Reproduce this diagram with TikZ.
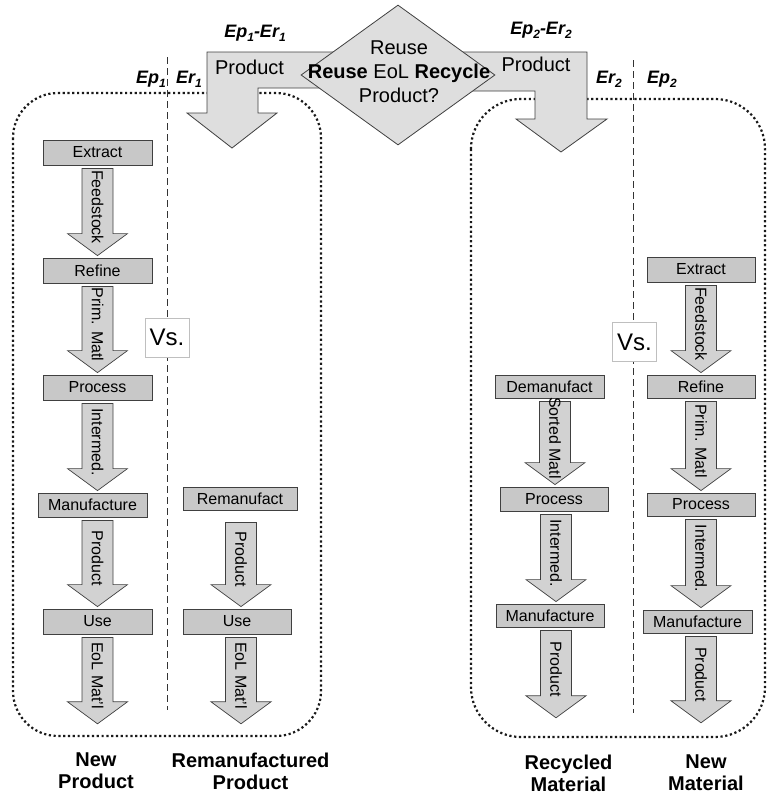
\documentclass[tikz,border=0pt]{standalone}
\usepackage{fontspec}
\setmainfont{Liberation Sans}
\usetikzlibrary{shapes.geometric,calc}
\definecolor{boxfill}{HTML}{C8C8C8}
\definecolor{arrfill}{HTML}{D2D2D2}
\definecolor{bigfill}{HTML}{DEDEDE}
\definecolor{edgegray}{HTML}{404040}
\newcommand\subx[1]{\raisebox{-0.45ex}{\fontsize{12}{12}\selectfont #1}}
% #1 top gap, #2 column x, #3 from node, #4 to node, #5 label
\newcommand\barrow[5][3]{%
  \draw[smallarrow] let \p1=(#3.south), \p2=(#4.north) in
    (#2pt-15.5pt,\y1-#1pt) -- (#2pt+15.5pt,\y1-#1pt) -- (#2pt+15.5pt,\y2+24pt)
    -- (#2pt+30pt,\y2+24pt) -- (#2pt,\y2+2pt) -- (#2pt-30pt,\y2+24pt)
    -- (#2pt-15.5pt,\y2+24pt) -- cycle
    (#2pt,{0.5*(\y1-#1pt+\y2+2pt)+5pt}) node[arrowlabel] {#5};}
\tikzset{
  pbox/.style={draw=edgegray, fill=boxfill, line width=0.8pt, inner sep=0pt,
    minimum height=24pt, font=\fontsize{16}{19}\selectfont},
  arrowlabel/.style={rotate=-90, inner sep=0pt, font=\fontsize{16}{19}\selectfont},
  smallarrow/.style={draw=edgegray, fill=arrfill, line width=0.7pt},
  bigarrow/.style={draw=edgegray, fill=bigfill, line width=0.8pt},
  panel/.style={draw=black!90, line width=2.2pt, dash pattern=on 2.2pt off 2.6pt},
  divider/.style={draw=black!80, line width=0.9pt, dash pattern=on 7pt off 4pt},
  vsbox/.style={draw=black!25, fill=white, line width=0.6pt, minimum width=44pt,
    minimum height=39pt, inner sep=0pt, font=\fontsize{24}{28}\selectfont},
  botlabel/.style={align=center, inner sep=0pt, font=\bfseries\fontsize{20}{22}\selectfont},
  eplabel/.style={inner sep=0pt, font=\bfseries\itshape\fontsize{18}{20}\selectfont},
  biglabel/.style={inner sep=0pt, font=\fontsize{20}{24}\selectfont},
  endpt/.style={inner sep=0pt, minimum size=0pt}
}
\begin{document}
\begin{tikzpicture}[x=1pt,y=-1pt]
\useasboundingbox (0,0) rectangle (768,795);
% panels
\draw[panel, rounded corners=45pt] (13,93) rectangle (321,736);
\draw[panel, rounded corners=50pt] (471,99) rectangle (765,737);
% dividers
\coordinate (d1t) at (167,57); \coordinate (d1b) at (167,710);
\coordinate (d2t) at (633,60); \coordinate (d2b) at (633,713);
\draw[divider] (d1t) -- (d1b);
\draw[divider] (d2t) -- (d2b);
% big bent arrows
\draw[bigarrow] (400,52) -- (207,52) -- (207,113) -- (187,113) -- (232,148)
  -- (277,113) -- (258,113) -- (258,88) -- (400,88) -- cycle;
\draw[bigarrow] (400,52) -- (587,52) -- (587,119) -- (607,119) -- (561,152)
  -- (516,119) -- (535,119) -- (535,91) -- (400,91) -- cycle;
% decision diamond
\node[diamond, draw=edgegray, fill=bigfill, line width=0.8pt, inner sep=0pt,
  minimum width=194pt, minimum height=140pt] (dec) at (398,75) {};
\node[biglabel, align=center] (dectext) at (399,72)
  {Reuse\\\textbf{Reuse} EoL \textbf{Recycle}\\Product?};
\node[biglabel] (prodL) at (249.5,67) {Product};
\node[biglabel] (prodR) at (536,64) {Product};
% top labels
\node[eplabel] (epr1) at (255,33) {Ep\subx{1}-Er\subx{1}};
\node[eplabel] (epr2) at (541,30) {Ep\subx{2}-Er\subx{2}};
\node[eplabel] (ep1) at (151,79) {Ep\subx{1}};
\node[eplabel] (er1) at (189,79) {Er\subx{1}};
\node[eplabel] (er2) at (609,79) {Er\subx{2}};
\node[eplabel] (ep2) at (662,79) {Ep\subx{2}};
% column A: new product
\node[pbox, minimum width=109pt, minimum height=25pt] (ExtA) at (97.5,152.5) {Extract};
\node[pbox, minimum width=109pt, minimum height=25pt] (RefA) at (97.5,270.5) {Refine};
\node[pbox, minimum width=109pt, minimum height=25pt] (ProA) at (97.5,387.5) {Process};
\node[pbox, minimum width=109pt] (ManA) at (92.5,505) {Manufacture};
\node[pbox, minimum width=109pt, minimum height=25pt] (UseA) at (97.5,621.5) {Use};
\node[endpt] (endA) at (97.5,726) {};
\barrow{97.5}{ExtA}{RefA}{Feedstock}
\barrow{97.5}{RefA}{ProA}{Prim. Matl}
\barrow{97.5}{ProA}{ManA}{Intermed.}
\barrow{97.5}{ManA}{UseA}{Product}
\barrow{97.5}{UseA}{endA}{EoL Mat'l}
% column B: remanufactured
\node[pbox, minimum width=114pt, minimum height=23pt] (RemB) at (240,498.5) {Remanufact};
\node[pbox, minimum width=108pt, minimum height=25pt] (UseB) at (237,621.5) {Use};
\node[endpt] (endB) at (241,726) {};
\barrow[12]{241}{RemB}{UseB}{Product}
\barrow{241}{UseB}{endB}{EoL Mat'l}
% column C: recycled
\node[pbox, minimum width=109pt, minimum height=23pt] (DemC) at (549.5,386.5) {Demanufact};
\node[pbox, minimum width=108pt] (ProC) at (554,499) {Process};
\node[pbox, minimum width=108pt, minimum height=23pt] (ManC) at (550,615.5) {Manufacture};
\node[endpt] (endC) at (556,720) {};
\barrow{555}{DemC}{ProC}{Sorted Matl}
\barrow{556}{ProC}{ManC}{Intermed.}
\barrow{556}{ManC}{endC}{Product}
% column D: new material
\node[pbox, minimum width=108pt, minimum height=25pt] (ExtD) at (701,269.5) {Extract};
\node[pbox, minimum width=108pt, minimum height=23pt] (RefD) at (701,386.5) {Refine};
\node[pbox, minimum width=108pt, minimum height=23pt] (ProD) at (701,504.5) {Process};
\node[pbox, minimum width=109pt, minimum height=23pt] (ManD) at (697.5,621.5) {Manufacture};
\node[endpt] (endD) at (701,725) {};
\barrow{701}{ExtD}{RefD}{Feedstock}
\barrow{701}{RefD}{ProD}{Prim. Matl}
\barrow{701}{ProD}{ManD}{Intermed.}
\barrow{701}{ManD}{endD}{Product}
% Vs. boxes
\node[vsbox] (vs1) at (167,337.5) {Vs.};
\node[vsbox] (vs2) at (634.5,342) {Vs.};
% bottom labels
\node[botlabel] (lblA) at (96,771) {New\\Product};
\node[botlabel] (lblB) at (250.5,771) {Remanufactured\\Product};
\node[botlabel] (lblC) at (568.5,773) {Recycled\\Material};
\node[botlabel] (lblD) at (706,773) {New\\Material};
\end{tikzpicture}
\end{document}
